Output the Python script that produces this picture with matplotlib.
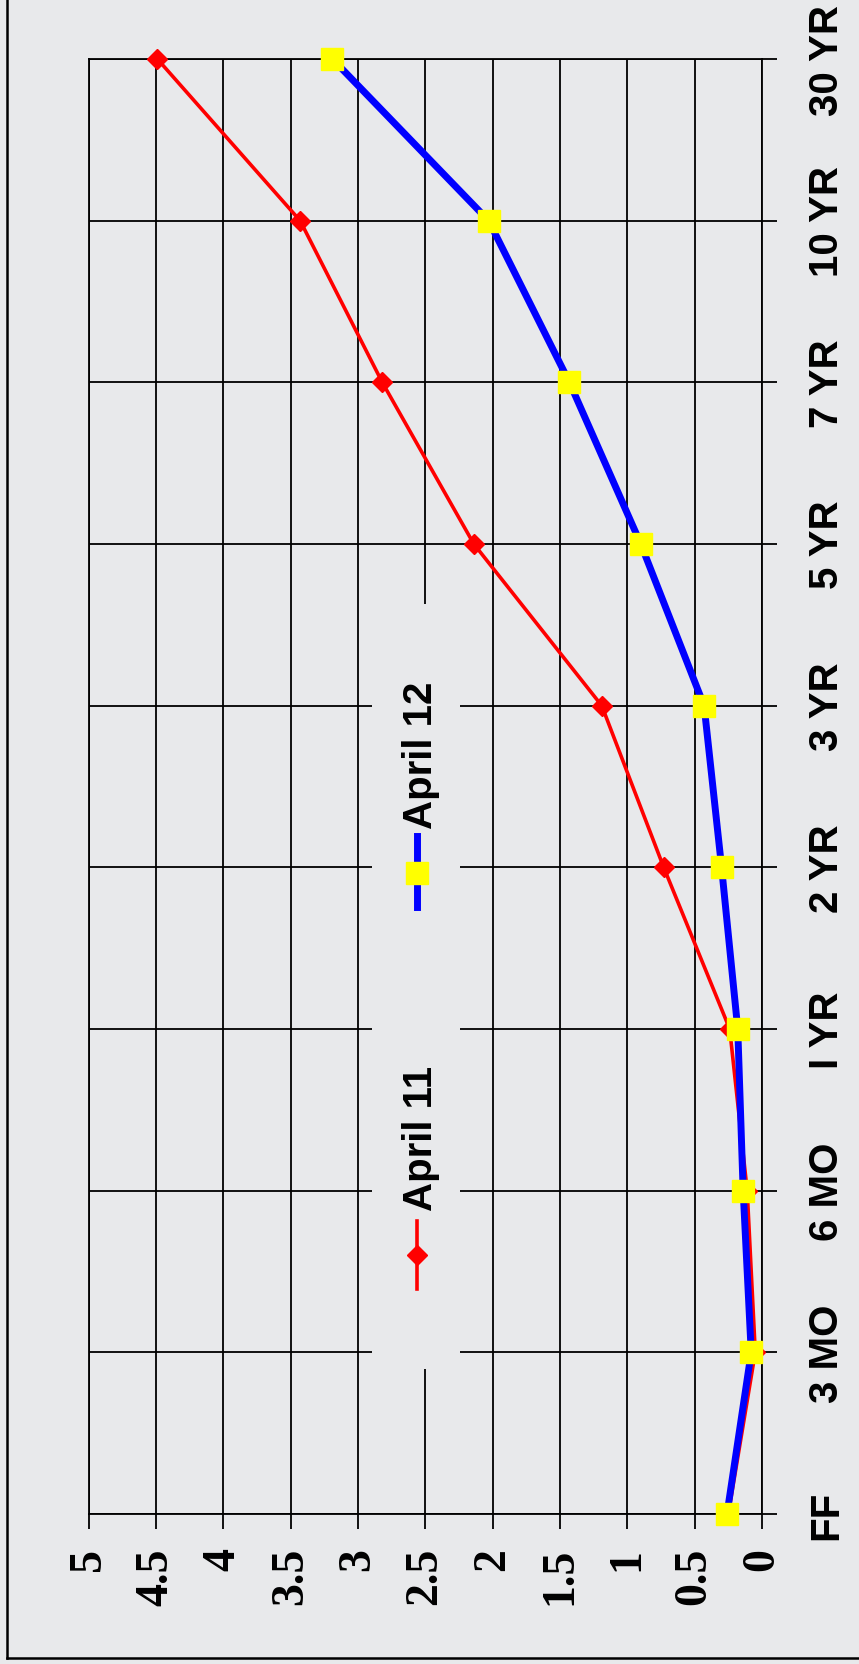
import numpy as np
import matplotlib
matplotlib.use("Agg")
import matplotlib.pyplot as plt
from matplotlib.lines import Line2D
from matplotlib.patches import Rectangle

# maturities (bottom to top after rotation) and yields
maturities = ["FF", "3 MO", "6 MO", "I YR", "2 YR", "3 YR", "5 YR", "7 YR", "10 YR", "30 YR"]
april_11 = [0.25, 0.05, 0.11, 0.24, 0.73, 1.19, 2.14, 2.82, 3.43, 4.49]
april_12 = [0.26, 0.08, 0.14, 0.18, 0.30, 0.43, 0.90, 1.43, 2.03, 3.19]
value_ticks = [0, 0.5, 1, 1.5, 2, 2.5, 3, 3.5, 4, 4.5, 5]

bg = "#e8e9eb"
W, H = 859, 1665

fig = plt.figure(figsize=(W / 100, H / 100), dpi=100, facecolor=bg)

# plot area in pixels
left, right, top, bottom = 88.7, 762, 60, 1515
ax = fig.add_axes([left / W, 1 - bottom / H, (right - left) / W, (bottom - top) / H])
ax.set_facecolor(bg)

pos = np.arange(len(maturities))

# value axis runs horizontally, 5 on the left, 0 on the right
ax.set_xlim(5, 0)
ax.set_ylim(0, len(maturities) - 1)
ax.set_xticks(value_ticks)
ax.set_xticklabels([f"{v:g}" for v in value_ticks], rotation=90,
                   fontfamily="Liberation Serif", fontweight="bold", fontsize=33)
ax.set_yticks(pos)
ax.yaxis.tick_right()
ax.set_yticklabels(maturities, rotation=90, va="center", ha="left",
                   fontfamily="Liberation Sans", fontweight="bold", fontsize=29)
ax.tick_params(axis="x", direction="out", length=10.8, width=1.3, pad=13, colors="black")
ax.tick_params(axis="y", direction="out", length=10.8, width=1.3, pad=22, colors="black")

ax.grid(True, color="black", linewidth=1.3, zorder=1)
ax.set_axisbelow(True)
for s in ax.spines.values():
    s.set_color("black")
    s.set_linewidth(1.3)

ax.plot(april_11, pos, color="#ff0000", lw=2.6, marker="D", ms=10.5,
        mfc="#ff0000", mec="#ff0000", zorder=3, clip_on=False)
ax.plot(april_12, pos, color="#0000ff", lw=5, marker="s", ms=16.5,
        mfc="#ffff00", mec="#ffff00", zorder=4, clip_on=False)

# legend box (same background, no border), rotated entries
aw, ah = right - left, bottom - top
def ax_x(px):
    return (px - left) / aw
def ax_y(py):
    return (bottom - py) / ah

ax.add_patch(Rectangle((ax_x(372), ax_y(1370)), ax_x(460) - ax_x(372), ax_y(605) - ax_y(1370),
                       transform=ax.transAxes, facecolor=bg, edgecolor="none", zorder=2))

hx = ax_x(417)
ax.plot([hx, hx], [ax_y(1290), ax_y(1222)], transform=ax.transAxes, color="#ff0000", lw=2.6, zorder=5)
ax.plot([hx], [ax_y(1256)], transform=ax.transAxes, marker="D", ms=10.5, color="#ff0000", zorder=6)
ax.plot([hx, hx], [ax_y(908), ax_y(837)], transform=ax.transAxes, color="#0000ff", lw=5, zorder=5)
ax.plot([hx], [ax_y(874)], transform=ax.transAxes, marker="s", ms=16.5,
        mfc="#ffff00", mec="#ffff00", zorder=6)

tx = ax_x(432)
ax.text(tx, ax_y(1211), "April 11", transform=ax.transAxes, rotation=90, rotation_mode="anchor",
        ha="left", va="baseline", fontfamily="Liberation Sans", fontweight="bold", fontsize=29, zorder=6)
ax.text(tx, ax_y(829), "April 12", transform=ax.transAxes, rotation=90, rotation_mode="anchor",
        ha="left", va="baseline", fontfamily="Liberation Sans", fontweight="bold", fontsize=29, zorder=6)

# outer frame (cut off at top and right)
fig.add_artist(Line2D([6.5 / W, 6.5 / W], [1 - 1659 / H, 1], color="black", lw=1.8))
fig.add_artist(Line2D([6.5 / W, 1], [1 - 1659 / H, 1 - 1659 / H], color="black", lw=1.8))

fig.savefig("out.png", dpi=100, facecolor=bg)
